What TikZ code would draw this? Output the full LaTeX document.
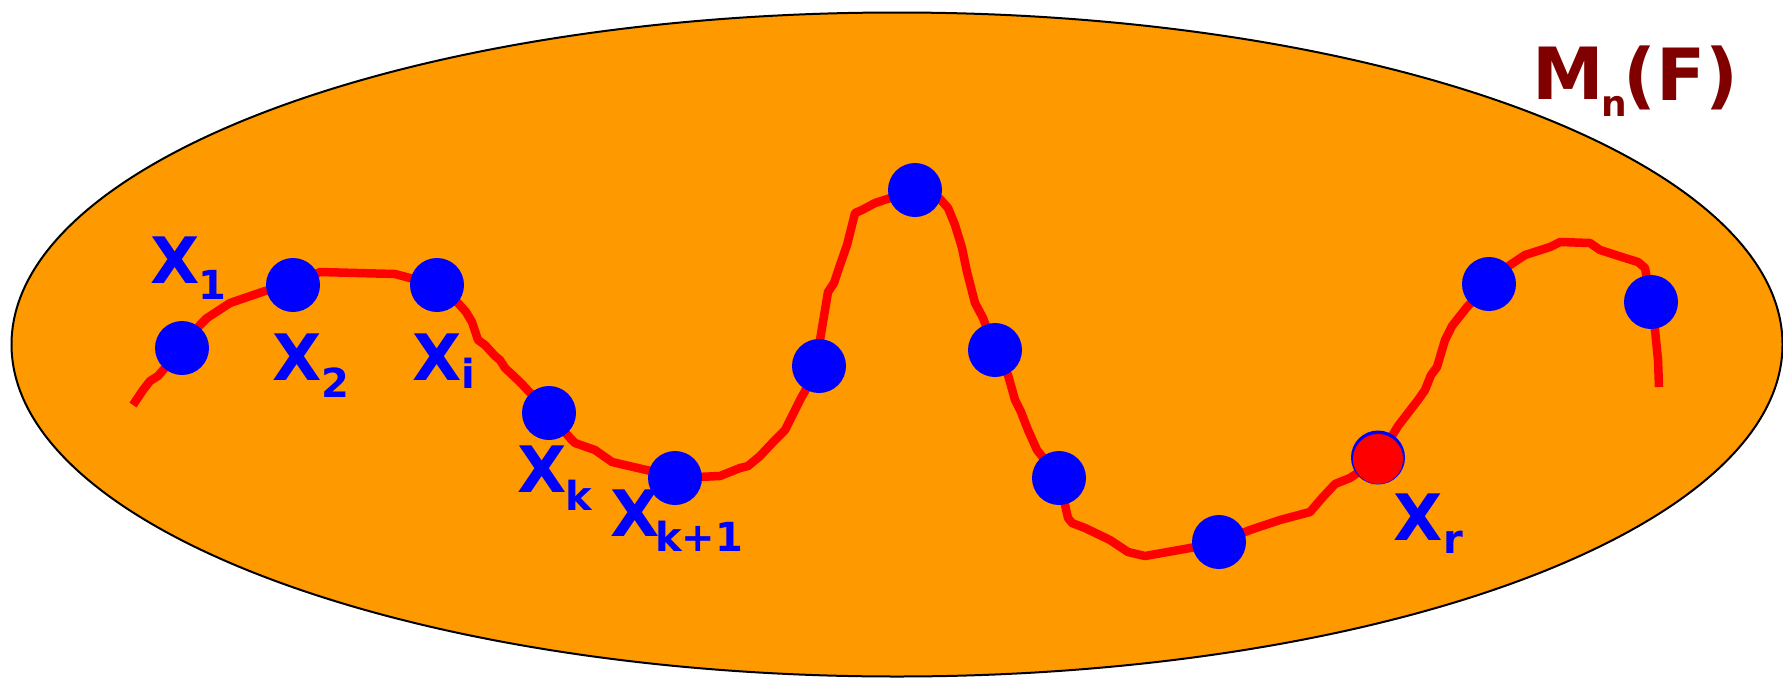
\documentclass[tikz,border=0pt]{standalone}
\usepackage{fontspec}
\usetikzlibrary{shapes.geometric}
\setmainfont{DejaVu Sans}
\definecolor{bgorange}{HTML}{FF9900}
\definecolor{ptblue}{HTML}{0000FF}
\definecolor{ptred}{HTML}{FF0000}
\definecolor{darkred}{HTML}{800000}
\begin{document}
\begin{tikzpicture}[x=1pt,y=-1pt,
  dot/.style={circle,fill=ptblue,draw=none,minimum size=54pt,inner sep=0pt},
  lbl/.style={inner sep=0pt,text=ptblue,font=\bfseries\fontsize{64}{64}\selectfont},
  sublbl/.style={inner sep=0pt,text=ptblue,font=\bfseries\fontsize{40}{40}\selectfont},
  curve/.style={draw=ptred,line width=8.5pt,line join=round},
  title/.style={inner sep=0pt,text=darkred,font=\bfseries\fontsize{72}{72}\selectfont}]
\useasboundingbox (0,0) rectangle (1783,678);
% the set
\node[ellipse,draw=black,line width=2pt,fill=bgorange,minimum width=1771pt,minimum height=664pt,inner sep=0pt] (set) at (897,344.5) {};
% sample points
\coordinate (p1) at (182,348);
\coordinate (p2) at (293,285);
\coordinate (p3) at (437,285);
\coordinate (p4) at (549,413);
\coordinate (p5) at (675,478);
\coordinate (p6) at (819,366);
\coordinate (p7) at (915,190);
\coordinate (p8) at (995,350);
\coordinate (p9) at (1059,478);
\coordinate (p10) at (1219,542);
\coordinate (p11) at (1378,459);
\coordinate (p12) at (1489,284);
\coordinate (p13) at (1651,302);
\coordinate (cstart) at (133,405);
\coordinate (cend) at (1659,387);
% trajectory
\draw[curve] (cstart) -- (143,390) -- (150,381) -- (158,376) -- (p1)
  -- (200,325) -- (207,318) -- (230,303) -- (265,291) -- (p2)
  -- (320,272) -- (395,274) -- (410,278) -- (p3)
  -- (458,303) -- (466,312) -- (472,322) -- (478,340) -- (485,345) -- (495,356) -- (500,360) -- (505,368) -- (520,382) -- (p4)
  -- (570,438) -- (575,443) -- (595,450) -- (612,462) -- (655,472) -- (p5)
  -- (720,476) -- (740,468) -- (748,466) -- (760,456) -- (775,440) -- (785,430) -- (790,420) -- (800,400) -- (p6)
  -- (820,340) -- (825,310) -- (828,292) -- (834,283) -- (840,265) -- (847,245) -- (852,225) -- (855,213) -- (862,210) -- (875,203) -- (p7)
  -- (940,199) -- (948,208) -- (955,225) -- (962,248) -- (967,272) -- (975,303) -- (983,318) -- (p8)
  -- (1008,375) -- (1015,400) -- (1021,412) -- (1028,430) -- (1037,450) -- (p9)
  -- (1068,518) -- (1072,523) -- (1085,528) -- (1110,540) -- (1128,552) -- (1145,556) -- (1190,548) -- (p10)
  -- (1250,530) -- (1265,525) -- (1280,520) -- (1310,512) -- (1322,498) -- (1335,484) -- (1350,478) -- (p11)
  -- (1398,426) -- (1418,400) -- (1425,390) -- (1431,375) -- (1437,367) -- (1445,340) -- (1452,326) -- (1467,307) -- (p12)
  -- (1507,267) -- (1525,255) -- (1550,247) -- (1560,242) -- (1590,243) -- (1600,250) -- (1625,258) -- (1638,262) -- (1645,268) -- (p13)
  -- (1655,330) -- (1658,360) -- (cend);
% dots
\node[dot] (d1) at (p1) {};
\node[dot] (d2) at (p2) {};
\node[dot] (d3) at (p3) {};
\node[dot] (d4) at (p4) {};
\node[dot] (d5) at (p5) {};
\node[dot] (d6) at (p6) {};
\node[dot] (d7) at (p7) {};
\node[dot] (d8) at (p8) {};
\node[dot] (d9) at (p9) {};
\node[dot] (d10) at (p10) {};
\node[dot] (d11b) at ([yshift=1.5pt]p11) {};
\node[circle,fill=ptred,minimum size=50pt,inner sep=0pt] (d11) at (p11) {};
\node[dot] (d12) at (p12) {};
\node[dot] (d13) at (p13) {};
% labels
\node[lbl] (x1) at (175,260) {X};
\node[sublbl] (x1s) at (212,285) {1};
\node[lbl] (x2) at (297,357) {X};
\node[sublbl] (x2s) at (335,383) {2};
\node[lbl] (xi) at (437,357) {X};
\node[sublbl] (xis) at (468,373) {i};
\node[lbl] (xk) at (542,469) {X};
\node[sublbl] (xks) at (579,495) {k};
\node[lbl] (xk1) at (635,513) {X};
\node[sublbl] (xk1s) at (699,536) {k+1};
\node[lbl] (xr) at (1418,517) {X};
\node[sublbl] (xrs) at (1453,542) {r};
% space name
\node[title] (mM) at (1568,73) {M};
\node[inner sep=0pt,text=darkred,font=\bfseries\fontsize{36}{36}\selectfont] (mn) at (1614,106) {n};
\node[title] (mF) at (1681,78) {(F)};
\end{tikzpicture}
\end{document}
